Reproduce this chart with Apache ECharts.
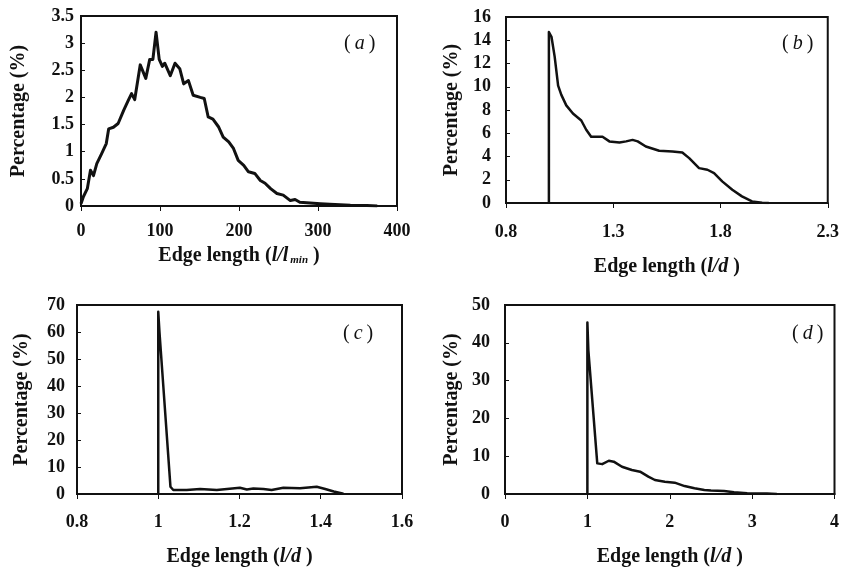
<!DOCTYPE html>
<html>
<head>
<meta charset="utf-8">
<script src="https://cdn.jsdelivr.net/npm/echarts@6/dist/echarts.min.js"></script>
<style>
    html, body { margin: 0; padding: 0; background: #fff; }
    #chart { width: 842px; height: 569px; }
</style>
</head>
<body>
<div id="chart"></div>
<script>
    // (a) edge length l/l_min
    var xa = [0, 3, 8, 12, 15.8, 20, 26, 32, 35, 41, 47, 54, 60, 64, 68, 75, 82, 87, 91, 95, 99, 103, 106, 113, 119, 125,
        130, 136, 142, 151, 156, 161, 167, 174, 180, 187, 193, 199, 206, 212, 220, 227, 233, 240, 248, 256, 265, 271,
        277, 290, 303, 315, 341, 362, 375];
    var ya = [0.04, 0.17, 0.32, 0.66, 0.56, 0.78, 0.96, 1.15, 1.42, 1.45, 1.52, 1.76, 1.95, 2.07, 1.96, 2.6, 2.35, 2.7,
        2.7, 3.2, 2.7, 2.57, 2.63, 2.4, 2.63, 2.53, 2.25, 2.31, 2.04, 2.0, 1.98, 1.64, 1.6, 1.46, 1.27, 1.18, 1.06,
        0.84, 0.75, 0.63, 0.6, 0.47, 0.42, 0.32, 0.23, 0.2, 0.1, 0.12, 0.07, 0.055, 0.04, 0.03, 0.015, 0.01, 0];
    // (b) edge length l/d
    var xb = [1.0, 1.0, 1.012, 1.027, 1.043, 1.058, 1.081, 1.112, 1.151, 1.174, 1.197, 1.22, 1.25, 1.282, 1.329, 1.36,
        1.39, 1.414, 1.452, 1.514, 1.576, 1.622, 1.654, 1.7, 1.739, 1.77, 1.808, 1.855, 1.9, 1.947, 1.994, 2.025];
    var yb = [0, 14.7, 14.3, 12.57, 10.1, 9.3, 8.4, 7.7, 7.1, 6.3, 5.7, 5.7, 5.7, 5.3, 5.2, 5.3, 5.43, 5.3, 4.86, 4.5,
        4.43, 4.34, 3.86, 3.0, 2.86, 2.57, 1.86, 1.14, 0.57, 0.14, 0.02, 0];
    // (c)
    var xc = [1.0, 1.0, 1.003, 1.03, 1.037, 1.07, 1.103, 1.144, 1.201, 1.218, 1.234, 1.259, 1.279, 1.308, 1.349, 1.39,
        1.411, 1.432, 1.456];
    var yc = [0, 67.5, 60, 2.7, 1.5, 1.5, 1.85, 1.5, 2.3, 1.7, 2.0, 1.85, 1.5, 2.3, 2.1, 2.7, 1.85, 0.9, 0.1];
    // (d)
    var xd = [1.0, 1.0, 1.012, 1.12, 1.18, 1.26, 1.32, 1.42, 1.54, 1.64, 1.74, 1.82, 1.94, 2.06, 2.18, 2.3, 2.42, 2.5,
        2.66, 2.78, 2.94, 3.18, 3.3];
    var yd = [0, 45.4, 38, 8.1, 7.9, 8.8, 8.55, 7.2, 6.35, 5.9, 4.6, 3.7, 3.26, 3.0, 2.1, 1.5, 1.06, 0.9, 0.8, 0.44,
        0.18, 0.1, 0];

    var bTicks = [0.8, 1.3, 1.8, 2.3];
    var panelNames = ['a', 'b', 'c', 'd'];

    function pairs(xs, ys) {
        var out = [];
        for (var i = 0; i < xs.length; i++) out.push([xs[i], ys[i]]);
        return out;
    }

    var serif = '"Liberation Serif", "Times New Roman", serif';
    var ink = '#111';

    var grids = [
        {left: 81, top: 16, width: 316, height: 190},
        {left: 506, top: 17, width: 323, height: 186},
        {left: 77, top: 305, width: 325, height: 189},
        {left: 505, top: 305, width: 333, height: 189}
    ];
    grids.forEach(function (g) {
        g.show = true;
        g.borderColor = ink;
        g.borderWidth = 2;
        g.backgroundColor = '#fff';
    });

    var nameRich = {
        b: {fontFamily: serif, fontWeight: 'bold', fontSize: 20, color: ink},
        i: {fontFamily: serif, fontWeight: 'bold', fontStyle: 'italic', fontSize: 20, color: ink},
        s: {fontFamily: serif, fontWeight: 'bold', fontStyle: 'italic', fontSize: 11, color: ink, verticalAlign: 'bottom', padding: [8, 0, 0, 2]}
    };

    function xAxis(idx, opt) {
        var ax = {
            type: 'value',
            gridIndex: idx,
            min: opt.min,
            max: opt.max,
            nameLocation: 'middle',
            nameGap: opt.nameGap,
            name: opt.name,
            nameTextStyle: {rich: nameRich},
            axisLine: {show: true, onZero: false, lineStyle: {color: ink, width: 2}},
            axisTick: {show: true, inside: false, length: 5, lineStyle: {color: ink}},
            axisLabel: {fontFamily: serif, fontWeight: 'bold', fontSize: 18, color: ink, margin: opt.margin},
            splitLine: {show: false}
        };
        if (opt.interval) ax.interval = opt.interval;
        if (opt.custom) {
            ax.axisLabel.customValues = opt.custom;
            ax.axisTick.customValues = opt.custom;
        }
        return ax;
    }

    function yAxis(idx, opt) {
        return {
            type: 'value',
            gridIndex: idx,
            min: 0,
            max: opt.max,
            interval: opt.interval,
            name: 'Percentage (%)',
            nameLocation: 'middle',
            nameGap: opt.nameGap,
            nameTextStyle: {fontFamily: serif, fontWeight: 'bold', fontSize: 20, color: ink},
            axisLine: {show: true, lineStyle: {color: ink, width: 2}},
            axisTick: {show: true, inside: true, length: 4, lineStyle: {color: ink}},
            axisLabel: {fontFamily: serif, fontWeight: 'bold', fontSize: 18, color: ink, margin: opt.margin},
            splitLine: {show: false}
        };
    }

    var nameLd = '{b|Edge length (}{i|l/d}{b| )}';
    var nameLmin = '{b|Edge length (}{i|l/l}{s|min}{b| )}';

    var titlePos = [[344, 34], [782, 34], [343, 324], [792, 324]];
    var titles = panelNames.map(function (p, k) {
        return {
            text: '{p|(}{i|\u2009' + p + '\u2009}{p|)}',
            left: titlePos[k][0],
            top: titlePos[k][1],
            padding: 0,
            textStyle: {
                fontWeight: 'normal',
                rich: {
                    p: {fontFamily: serif, fontSize: 20, fontWeight: 'normal', color: ink},
                    i: {fontFamily: serif, fontSize: 20, fontWeight: 'normal', fontStyle: 'italic', color: ink}
                }
            }
        };
    });

    function lineSeries(idx, data, w) {
        return {
            type: 'line',
            xAxisIndex: idx,
            yAxisIndex: idx,
            data: data,
            showSymbol: false,
            symbol: 'none',
            lineStyle: {color: ink, width: w, join: 'round'},
            silent: true,
            animation: false
        };
    }

    var chart = echarts.init(document.getElementById('chart'));
    chart.setOption({
        animation: false,
        backgroundColor: '#fff',
        title: titles,
        grid: grids,
        xAxis: [
            xAxis(0, {min: 0, max: 400, interval: 100, name: nameLmin, nameGap: 40, margin: 16}),
            xAxis(1, {min: 0.8, max: 2.3, custom: bTicks, name: nameLd, nameGap: 54, margin: 20}),
            xAxis(2, {min: 0.8, max: 1.6, interval: 0.2, name: nameLd, nameGap: 53, margin: 19}),
            xAxis(3, {min: 0, max: 4, interval: 1, name: nameLd, nameGap: 53, margin: 19})
        ],
        yAxis: [
            yAxis(0, {max: 3.5, interval: 0.5, nameGap: 52, margin: 7}),
            yAxis(1, {max: 16, interval: 2, nameGap: 44, margin: 15}),
            yAxis(2, {max: 70, interval: 10, nameGap: 45, margin: 12}),
            yAxis(3, {max: 50, interval: 10, nameGap: 43, margin: 15})
        ],
        series: [
            lineSeries(0, pairs(xa, ya), 3),
            lineSeries(1, pairs(xb, yb), 2.5),
            lineSeries(2, pairs(xc, yc), 2.5),
            lineSeries(3, pairs(xd, yd), 2.5)
        ]
    });
</script>
</body>
</html>
